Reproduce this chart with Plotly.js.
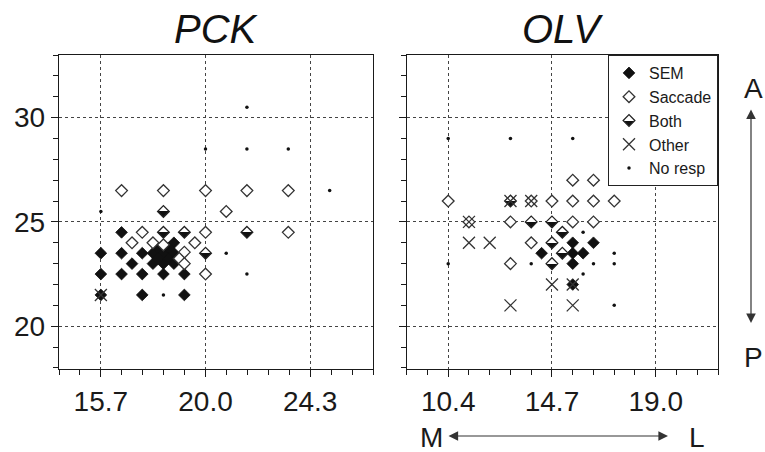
<!DOCTYPE html>
<html>
<head>
<meta charset="utf-8">
<script src="https://cdn.plot.ly/plotly-3.0.1.min.js"></script>
<style>html,body{margin:0;padding:0;background:#fff;}#chart{width:765px;height:452px;}</style>
</head>
<body>
<div id="chart"></div>
<script>
// ---------- Data: PCK (left panel) ----------
const pckSemX = [16.55, 18.7, 15.7, 16.55, 17.4, 17.84, 18.27, 18.7, 18.05, 18.48, 16.98, 17.84, 18.27, 18.7, 18.05, 18.48, 15.7, 16.55, 17.4, 18.27, 19.13, 15.7, 17.4, 19.13];
const pckSemY = [24.5, 24.0, 23.5, 23.5, 23.5, 23.5, 23.5, 23.5, 23.75, 23.75, 23.0, 23.0, 23.0, 23.0, 23.25, 23.25, 22.5, 22.5, 22.5, 22.5, 22.5, 21.5, 21.5, 21.5];
const pckSacX = [16.55, 18.27, 20.0, 21.7, 23.4, 20.85, 17.4, 20.0, 23.4, 16.98, 17.84, 18.27, 19.56, 19.13, 18.92, 19.13, 20.0];
const pckSacY = [26.5, 26.5, 26.5, 26.5, 26.5, 25.5, 24.5, 24.5, 24.5, 24.0, 24.0, 23.9, 24.0, 23.55, 23.25, 23.0, 22.5];
const pckBothX = [18.27, 18.27, 19.13, 21.7, 20.0];
const pckBothY = [25.5, 24.5, 24.5, 24.5, 23.5];
const pckOthX = [15.7];
const pckOthY = [21.5];
const pckNoX = [21.7, 20.0, 21.7, 23.4, 25.1, 15.7, 20.85, 21.7, 18.27];
const pckNoY = [30.5, 28.5, 28.5, 28.5, 26.5, 25.5, 23.5, 22.5, 21.5];

// ---------- Data: OLV (right panel) ----------
const olvSemX = [15.56, 16.42, 14.27, 15.56, 15.99, 15.56, 15.56];
const olvSemY = [24.0, 24.0, 23.5, 23.5, 23.5, 23.0, 22.0];
const olvSacX = [15.56, 16.42, 10.4, 13.84, 14.7, 15.56, 16.42, 17.28, 11.26, 12.98, 15.56, 16.42, 13.84, 12.98];
const olvSacY = [27.0, 27.0, 26.0, 26.0, 26.0, 26.0, 26.0, 26.0, 25.0, 25.0, 25.0, 25.0, 24.0, 23.0];
const olvBothX = [12.98, 13.84, 14.7, 15.13, 14.7, 15.13, 14.7];
const olvBothY = [26.0, 25.0, 25.0, 24.5, 24.0, 23.5, 23.0];
const olvOthX = [12.98, 13.84, 11.26, 11.26, 12.12, 14.7, 15.56, 12.98, 15.56];
const olvOthY = [26.0, 26.0, 25.0, 24.0, 24.0, 22.0, 22.0, 21.0, 21.0];
const olvNoX = [10.4, 12.98, 15.56, 15.99, 17.28, 10.4, 13.84, 16.42, 17.28, 15.99, 17.28];
const olvNoY = [29.0, 29.0, 29.0, 24.5, 23.5, 23.0, 23.0, 23.0, 23.0, 22.5, 21.0];

// ---------- Labels ----------
const categories = ['SEM', 'Saccade', 'Both', 'Other', 'No resp'];
const panelTitles = ['PCK', 'OLV'];
const pckTickVals = [15.7, 20.0, 24.3];
const olvTickVals = [10.4, 14.7, 19.0];
const yTickVals = [20, 25, 30];

const FONT = 'Liberation Sans, Arial, Helvetica, sans-serif';
const INK = '#1a1a1a';

const styles = {
  'SEM':     {symbol: 'diamond', size: 9, color: '#111', line: {width: 0.8, color: '#111'}},
  'Saccade': {symbol: 'diamond', size: 9, color: '#fff', line: {width: 1.3, color: '#333'}},
  'Both':    {symbol: 'diamond', size: 9, color: '#fff', gradient: {type: 'vertical', color: '#111'}, line: {width: 1.3, color: '#222'}},
  'Other':   {symbol: 'x-thin-open', size: 12, color: '#333', line: {width: 1.3, color: '#333'}},
  'No resp': {symbol: 'circle', size: 3.5, color: '#111', line: {width: 0}}
};

const pck = {SEM: [pckSemX, pckSemY], Saccade: [pckSacX, pckSacY], Both: [pckBothX, pckBothY], Other: [pckOthX, pckOthY], 'No resp': [pckNoX, pckNoY]};
const olv = {SEM: [olvSemX, olvSemY], Saccade: [olvSacX, olvSacY], Both: [olvBothX, olvBothY], Other: [olvOthX, olvOthY], 'No resp': [olvNoX, olvNoY]};

const traces = [];
categories.forEach(c => {
  traces.push({x: pck[c][0], y: pck[c][1], xaxis: 'x', yaxis: 'y', type: 'scatter', mode: 'markers',
    name: c, legendgroup: c, showlegend: false, marker: styles[c], cliponaxis: false, hoverinfo: 'skip'});
});
categories.forEach(c => {
  traces.push({x: olv[c][0], y: olv[c][1], xaxis: 'x2', yaxis: 'y2', type: 'scatter', mode: 'markers',
    name: c, legendgroup: c, showlegend: true, marker: styles[c], cliponaxis: false, hoverinfo: 'skip'});
});

// plot area: x 59..718, y 55..369 (pixels)
const L = 59, R = 718, T = 55, B = 369, W = 765, H = 452;
const PW = R - L, PH = B - T;
const px = v => (v - L) / PW;
const py = v => (B - v) / PH;

function xAxis(tickvals, range, domain, anchor) {
  return {
    domain: domain, range: range, anchor: anchor,
    tickmode: 'array', tickvals: tickvals, ticktext: tickvals.map(v => v.toFixed(1)),
    ticks: 'outside', ticklen: 7, tickwidth: 1, tickcolor: INK,
    showline: true, linecolor: INK, linewidth: 1.2, mirror: true,
    showgrid: true, gridcolor: '#444', gridwidth: 1, griddash: 'dot',
    zeroline: false,
    tickfont: {family: FONT, size: 28, color: INK},
    minor: {tick0: tickvals[0], dtick: 0.86, ticks: 'outside', ticklen: 5, tickcolor: INK, tickwidth: 1, showgrid: false}
  };
}
function yAxis(range, anchor, showLabels) {
  return {
    domain: [0, 1], range: range, anchor: anchor,
    tickmode: 'array', tickvals: yTickVals, showticklabels: showLabels,
    ticks: 'outside', ticklen: 7, tickwidth: 1, tickcolor: INK,
    showline: true, linecolor: INK, linewidth: 1.2, mirror: true,
    showgrid: true, gridcolor: '#444', gridwidth: 1, griddash: 'dot',
    zeroline: false,
    tickfont: {family: FONT, size: 28, color: INK},
    minor: {tick0: 0, dtick: 1, ticks: 'outside', ticklen: 5, tickcolor: INK, tickwidth: 1, showgrid: false}
  };
}

const d1 = [0, (373 - L) / PW];
const d2 = [(406.7 - L) / PW, 1];

const annotations = [
  {text: panelTitles[0], xref: 'paper', yref: 'paper', x: (d1[0] + d1[1]) / 2, y: py(29), xanchor: 'center', yanchor: 'middle', showarrow: false,
   font: {family: FONT, size: 40, color: '#111', style: 'italic'}},
  {text: panelTitles[1], xref: 'paper', yref: 'paper', x: (d2[0] + d2[1]) / 2, y: py(29), xanchor: 'center', yanchor: 'middle', showarrow: false,
   font: {family: FONT, size: 40, color: '#111', style: 'italic'}},
  {text: 'A', xref: 'paper', yref: 'paper', x: px(753), y: py(88), xanchor: 'center', yanchor: 'middle', showarrow: false,
   font: {family: FONT, size: 28, color: INK}},
  {text: 'P', xref: 'paper', yref: 'paper', x: px(753), y: py(357), xanchor: 'center', yanchor: 'middle', showarrow: false,
   font: {family: FONT, size: 28, color: INK}},
  {text: '', xref: 'paper', yref: 'paper', x: px(751), y: py(323), ax: 0, ay: -215, showarrow: true,
   arrowhead: 2, startarrowhead: 2, arrowside: 'end+start', arrowsize: 1.6, startarrowsize: 1.6, arrowwidth: 1.2, arrowcolor: '#333'},
  {text: 'M', xref: 'paper', yref: 'paper', x: px(431), y: py(437), xanchor: 'center', yanchor: 'middle', showarrow: false,
   font: {family: FONT, size: 28, color: INK}},
  {text: 'L', xref: 'paper', yref: 'paper', x: px(697), y: py(437), xanchor: 'center', yanchor: 'middle', showarrow: false,
   font: {family: FONT, size: 28, color: INK}},
  {text: '', xref: 'paper', yref: 'paper', x: px(668), y: py(436), ax: -221, ay: 0, showarrow: true,
   arrowhead: 2, startarrowhead: 2, arrowside: 'end+start', arrowsize: 1.6, startarrowsize: 1.6, arrowwidth: 1.2, arrowcolor: '#333'}
];

const layout = {
  width: W, height: H,
  margin: {l: L, r: W - R, t: T, b: H - B, pad: 0},
  paper_bgcolor: '#fff', plot_bgcolor: '#fff',
  font: {family: FONT, color: INK},
  xaxis: xAxis(pckTickVals, [13.98, 26.88], d1, 'y'),
  yaxis: yAxis([17.95, 33.0], 'x', true),
  xaxis2: xAxis(olvTickVals, [8.68, 21.58], d2, 'y2'),
  yaxis2: yAxis([17.95, 33.0], 'x2', false),
  showlegend: true,
  legend: {x: 1, xanchor: 'right', y: 1, yanchor: 'top', bgcolor: '#fff', bordercolor: '#222', borderwidth: 1,
    font: {family: FONT, size: 16, color: INK}, tracegroupgap: 0, itemwidth: 30, traceorder: 'normal'},
  annotations: annotations
};

Plotly.newPlot('chart', traces, layout, {staticPlot: true, displayModeBar: false}).then(() => {
  // make the "Both" diamonds half filled (sharp split between white top and black bottom)
  document.querySelectorAll('linearGradient').forEach(g => {
    g.querySelectorAll('stop').forEach(s => s.setAttribute('offset', '50%'));
  });
});
</script>
</body>
</html>
